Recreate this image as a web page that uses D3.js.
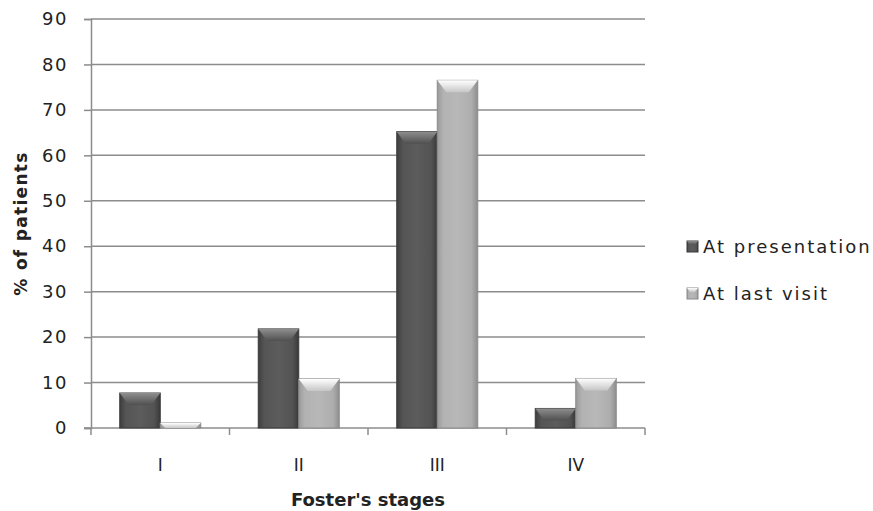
<!DOCTYPE html>
<html>
<head>
<meta charset="utf-8">
<script src="https://cdn.jsdelivr.net/npm/d3@7"></script>
<style>
  html, body { margin: 0; padding: 0; background: #fff; }
  svg { display: block; }
  text { font-family: "DejaVu Sans", Verdana, sans-serif; fill: #222; }
</style>
</head>
<body>
<svg id="chart" width="873" height="511"></svg>
<script>
// Foster's stages at presentation vs. at last visit (% of patients)
const categories = ["I", "II", "III", "IV"];
const seriesNames = ["At presentation", "At last visit"];
const atPresentation = [7.7, 21.8, 65.2, 4.3];
const atLastVisit = [1.1, 10.8, 76.5, 10.9];
const yTicks = [0, 10, 20, 30, 40, 50, 60, 70, 80, 90];

const seriesValues = [atPresentation, atLastVisit];

const svg = d3.select("#chart");
const margin = { left: 91, right: 228, top: 19, bottom: 83 };
const W = 873, H = 511;

const x = d3.scaleBand().domain(categories).range([margin.left, W - margin.right]).padding(0);
const xInner = d3.scaleBand().domain(seriesNames).range([0, x.bandwidth()]).paddingInner(0).paddingOuter(0.71);
const y = d3.scaleLinear().domain([0, 90]).range([H - margin.bottom, margin.top]);

// gradients for the bevelled bars
const defs = svg.append("defs");
function hGrad(id, stops) {
  const g = defs.append("linearGradient").attr("id", id).attr("x1", 0).attr("x2", 1).attr("y1", 0).attr("y2", 0);
  stops.forEach(([o, c]) => g.append("stop").attr("offset", o).attr("stop-color", c));
}
function vGrad(id, stops) {
  const g = defs.append("linearGradient").attr("id", id).attr("x1", 0).attr("x2", 0).attr("y1", 0).attr("y2", 1);
  stops.forEach(([o, c]) => g.append("stop").attr("offset", o).attr("stop-color", c));
}
hGrad("bodyDark", [[0, "#3e3e3e"], [0.15, "#555"], [0.5, "#5c5c5c"], [0.85, "#535353"], [1, "#393939"]]);
hGrad("bodyLight", [[0, "#9a9a9a"], [0.15, "#b2b2b2"], [0.5, "#b8b8b8"], [0.85, "#adadad"], [1, "#8e8e8e"]]);
vGrad("topDark", [[0, "#8e8e8e"], [1, "#505050"]]);
vGrad("topLight", [[0, "#ffffff"], [1, "#c6c6c6"]]);
const bodyFill = ["url(#bodyDark)", "url(#bodyLight)"];
const topFill = ["url(#topDark)", "url(#topLight)"];
const edge = ["#3a3a3a", "#8a8a8a"];

// gridlines
svg.append("g")
  .selectAll("line")
  .data(yTicks.filter(d => d > 0))
  .join("line")
  .attr("x1", margin.left).attr("x2", W - margin.right)
  .attr("y1", d => y(d)).attr("y2", d => y(d))
  .attr("stroke", "#8c8c8c").attr("stroke-width", 1.5);

// y axis
const yAxis = svg.append("g")
  .attr("transform", `translate(${margin.left},0)`)
  .call(d3.axisLeft(y).tickValues(yTicks).tickSize(7).tickPadding(16));
yAxis.select(".domain").attr("stroke", "#8c8c8c").attr("stroke-width", 1.5);
yAxis.selectAll(".tick line").attr("stroke", "#8c8c8c").attr("stroke-width", 1.5);
yAxis.selectAll(".tick text")
  .attr("font-family", "DejaVu Sans, sans-serif").attr("font-size", 18)
  .attr("letter-spacing", 1.5).attr("fill", "#333");

// x axis (ticks at category boundaries)
const xAxisG = svg.append("g").attr("transform", `translate(0,${y(0)})`);
xAxisG.append("line")
  .attr("x1", margin.left - 7).attr("x2", W - margin.right)
  .attr("stroke", "#8c8c8c").attr("stroke-width", 1.5);
const bounds = categories.map(c => x(c)).concat([x(categories[categories.length - 1]) + x.bandwidth()]);
xAxisG.selectAll("line.b").data(bounds).join("line").attr("class", "b")
  .attr("x1", d => d).attr("x2", d => d).attr("y1", 0).attr("y2", 7)
  .attr("stroke", "#8c8c8c").attr("stroke-width", 1.5);
xAxisG.selectAll("text").data(categories).join("text")
  .attr("x", d => x(d) + x.bandwidth() / 2).attr("y", 43)
  .attr("text-anchor", "middle").attr("font-size", 17).attr("fill", "#444")
  .attr("font-family", "Open Sans, sans-serif")
  .text(d => d);

// bars
const bars = svg.append("g");
const bevel = 12;
seriesValues.forEach((vals, si) => {
  const g = bars.append("g");
  categories.forEach((c, ci) => {
    const x0 = x(c) + xInner(seriesNames[si]);
    const w = xInner.bandwidth();
    const yTop = y(vals[ci]);
    const h = y(0) - yTop;
    g.append("rect")
      .attr("x", x0).attr("y", yTop).attr("width", w).attr("height", h)
      .attr("fill", bodyFill[si]).attr("stroke", edge[si]).attr("stroke-width", 1);
    const bh = Math.min(bevel, h);
    const inset = Math.min(9, bh);
    g.append("path")
      .attr("d", `M${x0},${yTop} L${x0 + w},${yTop} L${x0 + w - inset},${yTop + bh} L${x0 + inset},${yTop + bh} Z`)
      .attr("fill", topFill[si]);
  });
});

// axis titles
svg.append("text")
  .attr("x", x(categories[0]) + (bounds[bounds.length - 1] - bounds[0]) / 2)
  .attr("y", 506)
  .attr("text-anchor", "middle")
  .attr("font-family", "Open Sans, sans-serif").attr("font-weight", "bold").attr("font-size", 18)
  .text("Foster's stages");
svg.append("text")
  .attr("transform", `translate(27,${(y(0) + y(90)) / 2}) rotate(-90)`)
  .attr("text-anchor", "middle")
  .attr("font-family", "DejaVu Sans, sans-serif").attr("font-weight", "bold").attr("font-size", 17)
  .attr("letter-spacing", 1.3)
  .text("% of patients");

// legend
const legend = svg.append("g").attr("transform", "translate(687,238)");
seriesNames.forEach((name, i) => {
  const lg = legend.append("g").attr("transform", `translate(0,${i * 47})`);
  lg.append("rect").attr("x", 0).attr("y", 3).attr("width", 11).attr("height", 11)
    .attr("fill", bodyFill[i]).attr("stroke", edge[i]);
  lg.append("path").attr("d", "M0,3 L11,3 L8,7 L3,7 Z").attr("fill", topFill[i]);
  lg.append("text").attr("x", 16).attr("y", 15)
    .attr("font-size", 18).attr("fill", "#222").attr("letter-spacing", 2)
    .text(name);
});
</script>
</body>
</html>
